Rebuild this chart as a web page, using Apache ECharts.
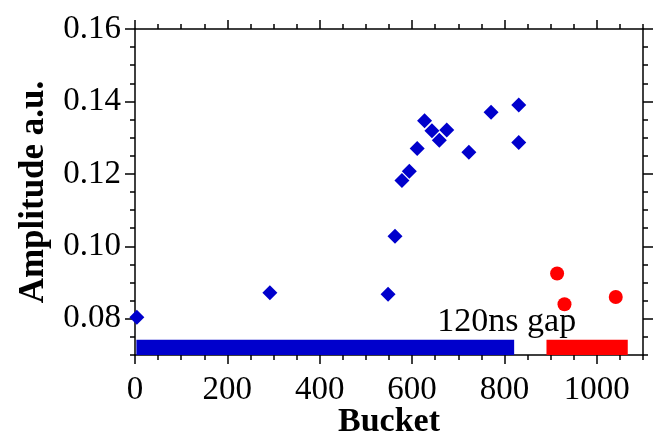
<!DOCTYPE html>
<html>
<head>
<meta charset="utf-8">
<script src="https://cdn.jsdelivr.net/npm/echarts@6.0.0/dist/echarts.min.js"></script>
<style>
  html, body { margin: 0; padding: 0; background: #fff; }
  #chart { width: 657px; height: 435px; }
</style>
</head>
<body>
<div id="chart"></div>
<script>
  // bunch amplitudes
  var trainX = [4, 292, 548, 563, 578, 594, 611, 627, 643, 659, 675, 723, 771, 831, 831];
  var trainY = [0.0804, 0.0872, 0.0868, 0.1028, 0.1182, 0.1207, 0.127, 0.1347, 0.1319, 0.1293, 0.1321, 0.126, 0.137, 0.139, 0.1287];
  var tailX = [914, 930, 1041];
  var tailY = [0.0925, 0.084, 0.086];

  // filled buckets (bars along the bottom)
  var fillStart = [3, 891];
  var fillEnd = [821, 1067];
  var fillLow = 0.07;
  var fillHigh = 0.0742;

  var xTicks = [0, 200, 400, 600, 800, 1000];
  var yTicks = [0.08, 0.10, 0.12, 0.14, 0.16];

  var gapLabel = { x: 805, y: 0.0791, text: '120ns gap' };

  var font = "'Liberation Serif', 'Times New Roman', serif";
  var blue = '#0000cc';
  var red = '#ff0000';

  function zip(xs, ys) {
    var out = [];
    for (var i = 0; i < xs.length; i++) { out.push([xs[i], ys[i]]); }
    return out;
  }

  var lineStyle = { color: '#000', width: 1.5 };

  function xAx(pos, major, showLabel) {
    var ax = {
      type: 'value', position: pos, min: 0, max: 1100,
      axisLine: { show: major, onZero: false, lineStyle: lineStyle },
      axisTick: { show: true, inside: false, length: major ? 9 : 5, lineStyle: lineStyle },
      axisLabel: {
        show: showLabel, fontFamily: font, fontSize: 33, color: '#000', margin: 19,
        formatter: function (v) { return String(v); }
      },
      splitLine: { show: false }
    };
    if (major) {
      ax.axisTick.customValues = xTicks;
      ax.axisLabel.customValues = xTicks;
    } else {
      ax.interval = 50;
    }
    return ax;
  }

  function yAx(pos, major, showLabel) {
    var ax = {
      type: 'value', position: pos, min: 0.07, max: 0.16,
      axisLine: { show: major, onZero: false, lineStyle: lineStyle },
      axisTick: { show: true, inside: false, length: major ? 10 : 5, lineStyle: lineStyle },
      axisLabel: {
        show: showLabel, fontFamily: font, fontSize: 33, color: '#000', margin: 14,
        formatter: function (v) { return v.toFixed(2); }
      },
      splitLine: { show: false }
    };
    if (major) {
      ax.axisTick.customValues = yTicks;
      ax.axisLabel.customValues = yTicks;
    } else {
      ax.interval = 0.005;
    }
    return ax;
  }

  var xMain = xAx('bottom', true, true);
  xMain.name = 'Bucket';
  xMain.nameLocation = 'middle';
  xMain.nameGap = 50;
  xMain.nameMoveOverlap = false;
  xMain.nameTextStyle = { fontFamily: font, fontSize: 34, fontWeight: 'bold', color: '#000' };

  var yMain = yAx('left', true, true);
  yMain.name = 'Amplitude a.u.';
  yMain.nameLocation = 'middle';
  yMain.nameGap = 84;
  yMain.nameMoveOverlap = false;
  yMain.nameTextStyle = { fontFamily: font, fontSize: 35, fontWeight: 'bold', color: '#000' };

  var chart = echarts.init(document.getElementById('chart'));
  var option = {
    animation: false,
    backgroundColor: '#fff',
    grid: { left: 135, right: 14, top: 29, bottom: 80, containLabel: false, outerBoundsMode: 'none' },
    xAxis: [xMain, xAx('bottom', false, false), xAx('top', true, false), xAx('top', false, false)],
    yAxis: [yMain, yAx('left', false, false), yAx('right', true, false), yAx('right', false, false)],
    series: [
      {
        type: 'custom',
        data: [[fillStart[0], fillEnd[0], 0], [fillStart[1], fillEnd[1], 1]],
        renderItem: function (params, api) {
          var p0 = api.coord([api.value(0), fillHigh]);
          var p1 = api.coord([api.value(1), fillLow]);
          return {
            type: 'rect',
            shape: { x: p0[0], y: p0[1], width: p1[0] - p0[0], height: p1[1] - p0[1] },
            style: { fill: api.value(2) === 0 ? blue : red }
          };
        },
        silent: true
      },
      {
        type: 'scatter',
        symbol: 'diamond',
        symbolSize: 15,
        itemStyle: { color: blue, opacity: 1 },
        data: zip(trainX, trainY)
      },
      {
        type: 'scatter',
        symbol: 'circle',
        symbolSize: 14,
        itemStyle: { color: red, opacity: 1 },
        data: zip(tailX, tailY)
      },
      {
        type: 'scatter',
        symbolSize: 0,
        itemStyle: { opacity: 1 },
        data: [[gapLabel.x, gapLabel.y]],
        label: {
          show: true, position: 'inside', formatter: gapLabel.text,
          fontFamily: font, fontSize: 34, color: '#000'
        },
        silent: true
      }
    ]
  };
  chart.setOption(option);
</script>
</body>
</html>
